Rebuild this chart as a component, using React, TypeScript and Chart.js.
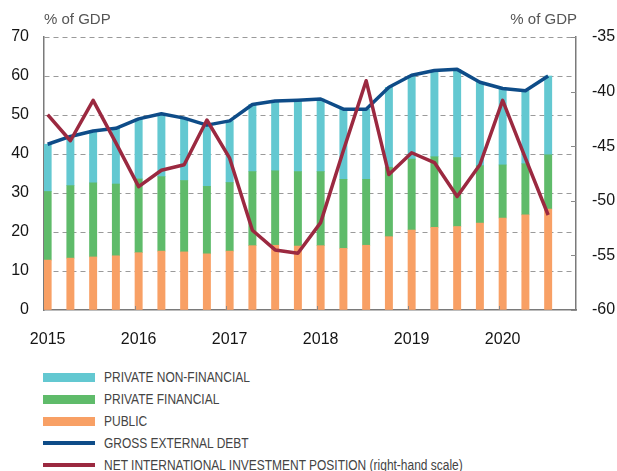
import React, { useEffect, useRef } from 'react';
import { Chart, registerables } from 'chart.js';

Chart.register(...registerables);

const quarters = [
  '2015-Q1', '2015-Q2', '2015-Q3', '2015-Q4',
  '2016-Q1', '2016-Q2', '2016-Q3', '2016-Q4',
  '2017-Q1', '2017-Q2', '2017-Q3', '2017-Q4',
  '2018-Q1', '2018-Q2', '2018-Q3', '2018-Q4',
  '2019-Q1', '2019-Q2', '2019-Q3', '2019-Q4',
  '2020-Q1', '2020-Q2', '2020-Q3',
];

const publicDebt = [12.8, 13.3, 13.6, 13.9, 14.7, 15.1, 14.9, 14.4, 15.1, 16.5, 16.6, 16.4, 16.5, 15.8, 16.6, 18.8, 20.5, 21.2, 21.4, 22.3, 23.6, 24.4, 25.9];
const privateFinancial = [17.6, 18.6, 19.0, 18.4, 18.9, 19.1, 18.3, 17.3, 17.6, 19.0, 19.1, 19.1, 19.0, 17.7, 16.9, 17.8, 18.2, 18.1, 17.7, 14.7, 13.6, 13.1, 13.9];
const privateNonFinancial = [12.1, 12.6, 13.3, 14.3, 15.4, 16.1, 16.0, 15.7, 15.8, 17.2, 17.9, 18.3, 18.6, 18.0, 18.0, 20.5, 21.5, 22.1, 22.6, 21.4, 19.6, 18.7, 20.2];
const grossExternalDebt = [42.5, 44.5, 45.9, 46.6, 49.0, 50.3, 49.2, 47.4, 48.5, 52.7, 53.6, 53.8, 54.1, 51.5, 51.5, 57.1, 60.2, 61.4, 61.7, 58.4, 56.8, 56.2, 60.0];
const niip = [-42.1, -44.5, -40.8, -44.7, -48.7, -47.2, -46.7, -42.6, -46.1, -52.7, -54.5, -54.8, -52.0, -45.4, -39.0, -47.6, -45.6, -46.5, -49.6, -46.7, -40.8, -46.1, -51.3];

const yearTicks = [2015, 2016, 2017, 2018, 2019, 2020];

const COLORS = {
  nonFin: '#63c8d1',
  fin: '#5fbb6a',
  pub: '#f8a065',
  gross: '#0e4c88',
  niip: '#9b2940',
};

const FONT = '"Liberation Sans", Arial, Helvetica, sans-serif';

const qx = (q: string) => Number(q.slice(0, 4)) + (Number(q.slice(6)) - 1) / 4;
const pts = (vals: number[]) => vals.map((v, i) => ({ x: qx(quarters[i]), y: v }));

const legendItems = [
  { label: 'PRIVATE NON-FINANCIAL', color: COLORS.nonFin, kind: 'bar' },
  { label: 'PRIVATE FINANCIAL', color: COLORS.fin, kind: 'bar' },
  { label: 'PUBLIC', color: COLORS.pub, kind: 'bar' },
  { label: 'GROSS EXTERNAL DEBT', color: COLORS.gross, kind: 'line' },
  { label: 'NET INTERNATIONAL INVESTMENT POSITION (right-hand scale)', color: COLORS.niip, kind: 'line' },
];

const decorPlugin = {
  id: 'decor',
  afterDraw(chart: any) {
    const { ctx, chartArea, scales } = chart;
    ctx.save();
    ctx.font = `15px ${FONT}`;
    ctx.fillStyle = '#555';
    ctx.textBaseline = 'alphabetic';
    ctx.textAlign = 'left';
    ctx.fillText('% of GDP', chartArea.left, 24);
    ctx.textAlign = 'right';
    ctx.fillText('% of GDP', chartArea.right + 1, 24);
    ctx.strokeStyle = '#8a8a8a';
    ctx.lineWidth = 1;
    const y2 = scales.y2;
    y2.ticks.forEach((t: any) => {
      const y = Math.round(y2.getPixelForValue(t.value)) + 0.5;
      ctx.beginPath();
      ctx.moveTo(chartArea.right - 5, y);
      ctx.lineTo(chartArea.right, y);
      ctx.stroke();
    });
    // inward year ticks at the left edge of each first-quarter bar
    const meta = chart.getDatasetMeta(2);
    quarters.forEach((q, i) => {
      if (!q.endsWith('Q1') || i === 0) return;
      const el: any = meta.data[i];
      if (!el) return;
      const x = Math.round(el.x - el.width / 2) + 0.5;
      ctx.beginPath();
      ctx.moveTo(x, chartArea.bottom);
      ctx.lineTo(x, chartArea.bottom - 4);
      ctx.stroke();
    });
    ctx.restore();
  },
};

export default function App() {
  const ref = useRef<HTMLCanvasElement>(null);

  useEffect(() => {
    document.body.style.margin = '0';
    const chart = new Chart(ref.current as HTMLCanvasElement, {
      type: 'bar',
      data: {
        datasets: [
          {
            type: 'line',
            label: 'NET INTERNATIONAL INVESTMENT POSITION (right-hand scale)',
            data: pts(niip),
            borderColor: COLORS.niip,
            backgroundColor: COLORS.niip,
            borderWidth: 3.5,
            pointRadius: 0,
            tension: 0,
            borderJoinStyle: 'round',
            yAxisID: 'y2',
            order: 0,
          } as any,
          {
            type: 'line',
            label: 'GROSS EXTERNAL DEBT',
            data: pts(grossExternalDebt),
            borderColor: COLORS.gross,
            backgroundColor: COLORS.gross,
            borderWidth: 3.5,
            pointRadius: 0,
            tension: 0,
            borderJoinStyle: 'round',
            yAxisID: 'y',
            stack: 'gross',
            order: 1,
          } as any,
          {
            type: 'bar',
            label: 'PUBLIC',
            data: pts(publicDebt),
            backgroundColor: COLORS.pub,
            barThickness: 7.3,
            stack: 'debt',
            yAxisID: 'y',
            order: 2,
          },
          {
            type: 'bar',
            label: 'PRIVATE FINANCIAL',
            data: pts(privateFinancial),
            backgroundColor: COLORS.fin,
            barThickness: 7.3,
            stack: 'debt',
            yAxisID: 'y',
            order: 2,
          },
          {
            type: 'bar',
            label: 'PRIVATE NON-FINANCIAL',
            data: pts(privateNonFinancial),
            backgroundColor: COLORS.nonFin,
            barThickness: 7.3,
            stack: 'debt',
            yAxisID: 'y',
            order: 2,
          },
        ],
      },
      options: {
        responsive: false,
        devicePixelRatio: 1,
        animation: false,
        layout: { padding: { top: 37, left: 0, right: 0, bottom: 0 } },
        plugins: {
          legend: { display: false },
          tooltip: { enabled: false },
        },
        scales: {
          x: {
            type: 'linear',
            offset: false,
            min: 2014.96,
            max: 2020.806,
            grid: { display: false, offset: false },
            border: { display: true, color: '#7a7a7a', width: 1.5 },
            afterBuildTicks: (s: any) => {
              s.ticks = yearTicks.map((v) => ({ value: v }));
            },
            afterFit: (s: any) => {
              s.height = 35;
            },
            ticks: {
              padding: 12,
              color: '#151515',
              font: { family: FONT, size: 16 },
              callback: (v: any) => String(v),
              maxRotation: 0,
              autoSkip: false,
            },
          },
          y: {
            type: 'linear',
            position: 'left',
            stacked: true,
            min: 0,
            max: 70,
            grid: {
              color: (c: any) => (c.tick && c.tick.value === 0 ? 'rgba(0,0,0,0)' : '#9a9a9a'),
              lineWidth: 1,
              drawTicks: false,
              borderDash: [5, 4],
            },
            border: { display: true, color: '#7a7a7a', width: 1.5, dash: [5, 4] },
            afterFit: (s: any) => {
              s.width = 44;
            },
            ticks: {
              stepSize: 10,
              padding: 15,
              color: '#151515',
              font: { family: FONT, size: 16 },
            },
          },
          y2: {
            type: 'linear',
            position: 'right',
            min: -60,
            max: -35,
            grid: { drawOnChartArea: false, drawTicks: false },
            border: { display: true, color: '#7a7a7a', width: 1.5 },
            afterFit: (s: any) => {
              s.width = 41;
            },
            ticks: {
              stepSize: 5,
              padding: 16,
              color: '#151515',
              font: { family: FONT, size: 16 },
            },
          },
        },
      },
      plugins: [decorPlugin],
    } as any);
    return () => chart.destroy();
  }, []);

  return (
    <div style={{ position: 'relative', width: 617, height: 471, background: '#fff', fontFamily: FONT, overflow: 'hidden' }}>
      <canvas ref={ref} width={617} height={345} style={{ position: 'absolute', left: 0, top: 0, width: 617, height: 345 }} />
      {legendItems.map((it, i) => {
        const cy = 377 + 22 * i;
        const h = it.kind === 'bar' ? 9 : 4;
        return (
          <React.Fragment key={it.label}>
            <div style={{ position: 'absolute', left: 43, top: cy - h / 2, width: 52, height: h, background: it.color }} />
            <div
              style={{
                position: 'absolute',
                left: 104,
                top: cy - 7,
                fontSize: 14,
                lineHeight: '14px',
                color: '#444',
                whiteSpace: 'nowrap',
                transform: 'scaleX(0.855)',
                transformOrigin: 'left center',
              }}
            >
              {it.label}
            </div>
          </React.Fragment>
        );
      })}
    </div>
  );
}
